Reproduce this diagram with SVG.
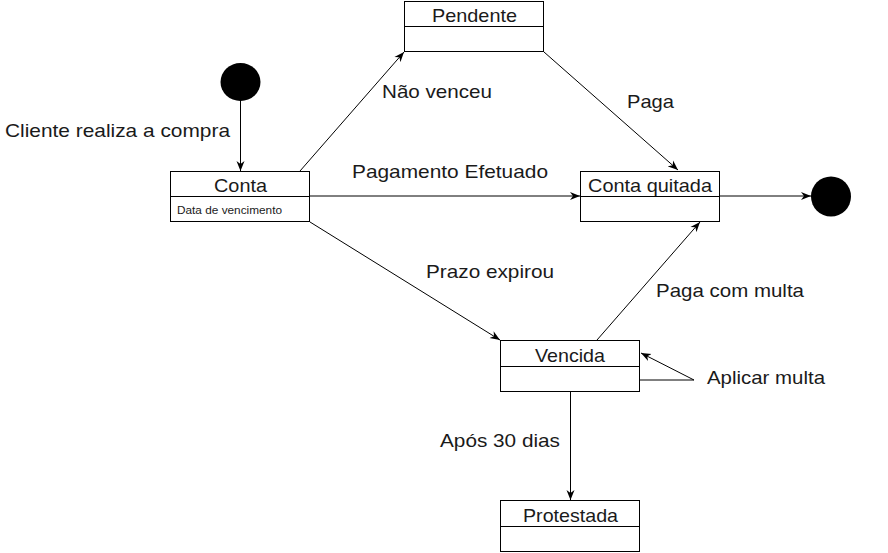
<svg xmlns="http://www.w3.org/2000/svg" width="888" height="553" viewBox="0 0 888 553">
<style>
.box{fill:#fff;stroke:#000;stroke-width:1}
.div{stroke:#000;stroke-width:1}
.t{font-family:"Liberation Sans",Arial,sans-serif;font-size:18.5px;fill:#1a1a1a}
.s{font-family:"Liberation Sans",Arial,sans-serif;font-size:10.5px;fill:#1a1a1a}
.c{fill:none;stroke:#000;stroke-width:1;marker-end:url(#arr)}
</style>
<defs>
<marker id="arr" markerUnits="userSpaceOnUse" markerWidth="10" markerHeight="10" viewBox="0 0 10 10" refX="10" refY="5" orient="auto">
<path d="M0,1 L10,5 L0,9 L3,5 z" fill="#000"/>
</marker>
</defs>
<rect width="888" height="553" fill="#fff"/>
<g id="connectors">
<path class="c" d="M240.5,101 L240.5,171"/>
<path class="c" d="M300,171 L404,52"/>
<path class="c" d="M544,52 L678,170"/>
<path class="c" d="M310,196 L580,196"/>
<path class="c" d="M310,222 L500,340"/>
<path class="c" d="M597,340 L700,222"/>
<path class="c" d="M720,196 L811,196"/>
<path class="c" d="M640,380 L694,380 L641,353"/>
<path class="c" d="M570.5,392 L570.5,500"/>
</g>
<g id="labels">
<text class="t" x="5" y="137" textLength="225" lengthAdjust="spacingAndGlyphs">Cliente realiza a compra</text>
<text class="t" x="382" y="98" textLength="110" lengthAdjust="spacingAndGlyphs">Não venceu</text>
<text class="t" x="627" y="108" textLength="47" lengthAdjust="spacingAndGlyphs">Paga</text>
<text class="t" x="352" y="178" textLength="196" lengthAdjust="spacingAndGlyphs">Pagamento Efetuado</text>
<text class="t" x="426" y="278" textLength="128" lengthAdjust="spacingAndGlyphs">Prazo expirou</text>
<text class="t" x="656" y="297" textLength="148" lengthAdjust="spacingAndGlyphs">Paga com multa</text>
<text class="t" x="707" y="384" textLength="118" lengthAdjust="spacingAndGlyphs">Aplicar multa</text>
<text class="t" x="440" y="447" textLength="120" lengthAdjust="spacingAndGlyphs">Após 30 dias</text>
</g>
<g id="initial">
<ellipse cx="240.5" cy="82" rx="20" ry="19" fill="#000"/>
</g>
<g id="final">
<circle cx="831" cy="196.5" r="20" fill="#000"/>
</g>
<g id="conta">
<rect class="box" x="170.5" y="171.5" width="139" height="50"/>
<line class="div" x1="170.5" y1="196.5" x2="309.5" y2="196.5"/>
<text class="t" x="214" y="192" textLength="53" lengthAdjust="spacingAndGlyphs">Conta</text>
<text class="s" x="177" y="214" textLength="105" lengthAdjust="spacingAndGlyphs">Data de vencimento</text>
</g>
<g id="pendente">
<rect class="box" x="404.5" y="1.5" width="139" height="50"/>
<line class="div" x1="404.5" y1="26.5" x2="543.5" y2="26.5"/>
<text class="t" x="432" y="22" textLength="85" lengthAdjust="spacingAndGlyphs">Pendente</text>
</g>
<g id="conta-quitada">
<rect class="box" x="580.5" y="171.5" width="139" height="50"/>
<line class="div" x1="580.5" y1="196.5" x2="719.5" y2="196.5"/>
<text class="t" x="588" y="192" textLength="124" lengthAdjust="spacingAndGlyphs">Conta quitada</text>
</g>
<g id="vencida">
<rect class="box" x="500.5" y="340.5" width="139" height="51"/>
<line class="div" x1="500.5" y1="366.5" x2="639.5" y2="366.5"/>
<text class="t" x="535" y="362" textLength="70" lengthAdjust="spacingAndGlyphs">Vencida</text>
</g>
<g id="protestada">
<rect class="box" x="500.5" y="500.5" width="139" height="51"/>
<line class="div" x1="500.5" y1="526.5" x2="639.5" y2="526.5"/>
<text class="t" x="523" y="522" textLength="95" lengthAdjust="spacingAndGlyphs">Protestada</text>
</g>
</svg>
